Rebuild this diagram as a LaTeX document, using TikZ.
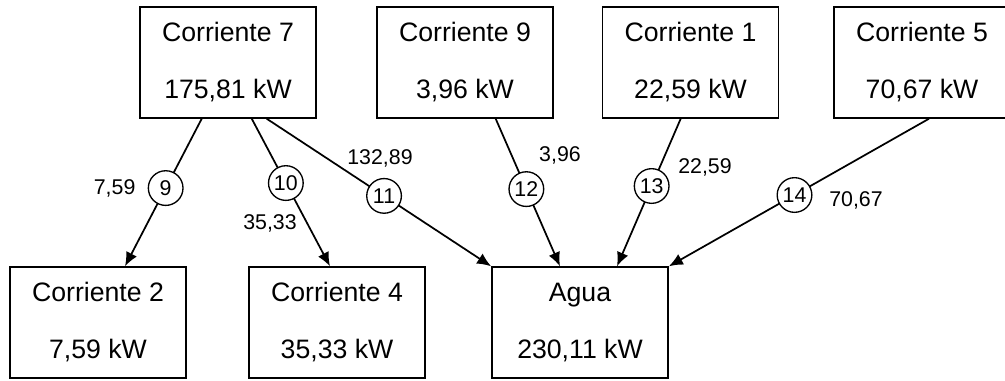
\documentclass[tikz,border=0pt]{standalone}
\usepackage{fontspec}
\setmainfont{Liberation Sans}
\usetikzlibrary{arrows.meta,positioning}
\tikzstyle{corriente}=[
	rectangle,
	draw=black,
	line width=1.3pt,
	minimum width=132pt,
	minimum height=83pt,
	inner sep=0,
	align=center,
	font=\fontsize{20}{42.75}\selectfont]
\tikzstyle{num}=[
	circle,
	draw=black,
	fill=white,
	line width=1pt,
	minimum size=26pt,
	inner sep=0,
	font=\fontsize{16}{18}\selectfont]
\tikzstyle{val}=[
	inner sep=0,
	font=\fontsize{16}{18}\selectfont]
\tikzstyle{flujo}=[
	line width=1.3pt,
	-{Latex[length=10.5pt,width=9pt]}]

\begin{document}
\begin{tikzpicture}[x=0.75pt,y=-0.75pt]
	\useasboundingbox (0,0) rectangle (1005,381);
	% corrientes de entrada
	\node[corriente]	(c7)	at (228,62.5)	{Corriente 7\\175,81 kW};
	\node[corriente]	(c9)	at (465,62.5)	{Corriente 9\\3,96 kW};
	\node[corriente]	(c1)	at (690.5,62.5)	{Corriente 1\\22,59 kW};
	\node[corriente]	(c5)	at (922,62.5)	{Corriente 5\\70,67 kW};
	% corrientes de salida
	\node[corriente]	(c2)	at (98,322.5)	{Corriente 2\\7,59 kW};
	\node[corriente]	(c4)	at (337,322.5)	{Corriente 4\\35,33 kW};
	\node[corriente]	(agua)	at (580,322.5)	{Agua\\230,11 kW};
	% flujos
	\draw[flujo] ([xshift=-19.7pt]c7.south) -- node[num,pos=.47] (k9) {9} ([xshift=20.25pt]c2.north);
	\draw[flujo] ([xshift=17.8pt]c7.south) -- node[num,pos=.436] (k10) {10} ([xshift=-5.25pt]c4.north);
	\draw[flujo] ([xshift=29pt]c7.south) -- node[num,pos=.523] (k11) {11} (agua.north west);
	\draw[flujo] ([xshift=23pt]c9.south) -- node[num,pos=.477] (k12) {12} ([xshift=-15pt]agua.north);
	\draw[flujo] ([xshift=-7.35pt]c1.south) -- node[num,pos=.456] (k13) {13} ([xshift=27.75pt]agua.north);
	\draw[flujo] ([xshift=5.25pt]c5.south) -- node[num,pos=.517] (k14) {14} (agua.north east);
	% valores
	\node[val]	(v9)	[left=9pt of k9]	{7,59};
	\node[val]	(v10)	at (270,223)	{35,33};
	\node[val]	(v11)	at (380,158)	{132,89};
	\node[val]	(v12)	at (560,155)	{3,96};
	\node[val]	(v13)	at (705,167)	{22,59};
	\node[val]	(v14)	at (856,200)	{70,67};
\end{tikzpicture}
\end{document}
